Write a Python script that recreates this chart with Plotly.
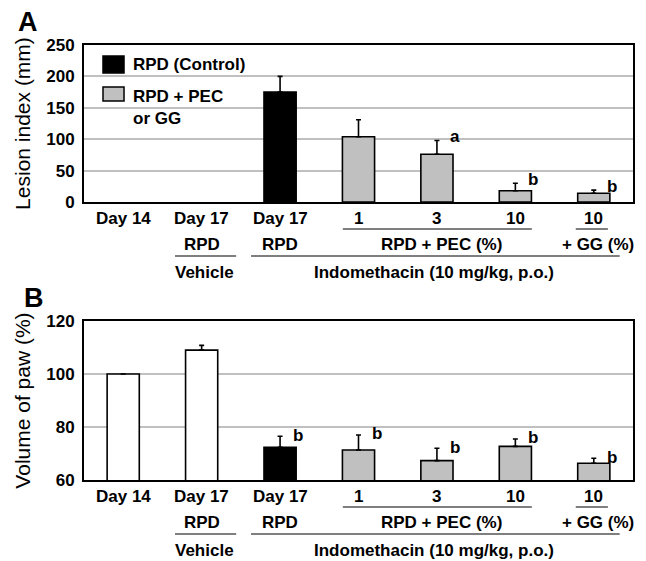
import plotly.graph_objects as go

# ---------------- data ----------------
categories = ["Day 14", "Day 17", "Day 17", "1", "3", "10", "10"]
row2_labels = ["RPD", "RPD", "RPD + PEC (%)", "+ GG (%)"]
row3_labels = ["Vehicle", "Indomethacin (10 mg/kg, p.o.)"]

lesion_mean = [None, None, 175, 104, 76, 18, 14]
lesion_err = [0, 0, 25, 27, 22, 12, 5]
lesion_sig = ["", "", "", "", "a", "b", "b"]

paw_mean = [100, 109, 72.3, 71.3, 67.3, 72.7, 66.3]
paw_err = [0, 1.8, 4.2, 5.7, 4.7, 2.8, 1.9]
paw_sig = ["", "", "b", "b", "b", "b", "b"]

colors_A = ["white", "white", "black", "#c0c0c0", "#c0c0c0", "#c0c0c0", "#c0c0c0"]
colors_B = ["white", "white", "black", "#c0c0c0", "#c0c0c0", "#c0c0c0", "#c0c0c0"]

FONT = "Liberation Sans, Arial, sans-serif"
xs = list(range(len(categories)))

fig = go.Figure()

def add_bars(means, errs, colors, xa, ya):
    fig.add_trace(go.Bar(
        x=xs, y=means, width=0.41, xaxis=xa, yaxis=ya,
        marker=dict(color=colors, line=dict(color="black", width=1.6)),
        error_y=dict(type="data", array=errs, arrayminus=[0] * len(errs),
                     symmetric=False, color="black", thickness=1.6, width=2.5),
        showlegend=False, hoverinfo="skip",
    ))

add_bars(lesion_mean, lesion_err, colors_A, "x", "y")
add_bars(paw_mean, paw_err, colors_B, "x2", "y2")

axis_common = dict(showline=True, mirror=True, linecolor="black", linewidth=2,
                   zeroline=False)
tickfont = dict(family=FONT, size=17, color="black", weight="bold")

fig.update_layout(
    width=646, height=561,
    margin=dict(l=84, r=13, t=45, b=81),
    paper_bgcolor="white", plot_bgcolor="white",
    bargap=0.5,
    xaxis=dict(domain=[0, 1], anchor="y", range=[-0.5, 6.5], showticklabels=False,
               showgrid=False, ticks="", **axis_common),
    xaxis2=dict(domain=[0, 1], anchor="y2", range=[-0.5, 6.5], showticklabels=False,
                showgrid=False, ticks="", **axis_common),
    yaxis=dict(domain=[0.639, 1], anchor="x", range=[0, 250], dtick=50,
               showgrid=True, gridcolor="#c0c0c0", gridwidth=1.6,
               tickfont=tickfont, ticks="", ticklabelstandoff=4,
               title=dict(text="Lesion index (mm)", standoff=10,
                          font=dict(family=FONT, size=21, color="black")),
               **axis_common),
    yaxis2=dict(domain=[0, 0.3655], anchor="x2", range=[60, 120], dtick=20,
                showgrid=True, gridcolor="#c0c0c0", gridwidth=1.6,
                tickfont=tickfont, ticks="", ticklabelstandoff=4,
                title=dict(text="Volume of paw (%)", standoff=10,
                           font=dict(family=FONT, size=21, color="black")),
                **axis_common),
)

lab_font = dict(family=FONT, size=17, color="black", weight="bold")
annotations = []
shapes = []

def panel_axis_labels(xref, yref):
    # row 1: tick labels
    for i, c in enumerate(categories):
        annotations.append(dict(x=i, y=0, xref=xref, yref=yref, text=c,
                                showarrow=False, yanchor="middle", yshift=-16,
                                font=lab_font))
    # row 2
    row2_pos = [(1, 0), (2, 0), (4, 5), (6, 4)]
    for (px, sh), t in zip(row2_pos, row2_labels):
        annotations.append(dict(x=px, y=0, xref=xref, yref=yref, text=t,
                                showarrow=False, yanchor="middle", yshift=-42,
                                xshift=sh, font=lab_font))
    # row 3
    row3_pos = [(1, 3), (4, -3)]
    for (px, sh), t in zip(row3_pos, row3_labels):
        annotations.append(dict(x=px, y=0, xref=xref, yref=yref, text=t,
                                showarrow=False, yanchor="middle", yshift=-70,
                                xshift=sh, font=lab_font))
    # group lines
    for x0, x1, off in [(2.80, 5.21, -27), (5.77, 6.18, -27),
                        (0.66, 1.44, -54), (1.63, 6.33, -54)]:
        shapes.append(dict(type="line", xref=xref, yref=yref, x0=x0, x1=x1,
                           ysizemode="pixel", yanchor=0, y0=off, y1=off,
                           line=dict(color="#555555", width=1.5)))

panel_axis_labels("x", "y domain")
panel_axis_labels("x2", "y2 domain")

# significance letters
sig_font = dict(family=FONT, size=17, color="black", weight="bold")
for i, (m, e, s) in enumerate(zip(lesion_mean, lesion_err, lesion_sig)):
    if s:
        annotations.append(dict(x=i, y=m + e, xref="x", yref="y", text=s,
                                showarrow=False, xshift=18, yshift=4,
                                yanchor="middle", font=sig_font))
for i, (m, e, s) in enumerate(zip(paw_mean, paw_err, paw_sig)):
    if s:
        annotations.append(dict(x=i, y=m + e, xref="x2", yref="y2", text=s,
                                showarrow=False, xshift=18, yshift=1,
                                yanchor="middle", font=sig_font))

# legend (panel A)
shapes.append(dict(type="rect", xref="x domain", yref="y domain",
                   x0=0.0346, x1=0.0729, y0=0.822, y1=0.930,
                   fillcolor="black", line=dict(color="black", width=1.5)))
shapes.append(dict(type="rect", xref="x domain", yref="y domain",
                   x0=0.0346, x1=0.0729, y0=0.643, y1=0.7325,
                   fillcolor="#c0c0c0", line=dict(color="black", width=1.5)))
leg_font = dict(family=FONT, size=17, color="black", weight="bold")
for t, yy in [("RPD (Control)", 0.873), ("RPD + PEC", 0.669), ("or GG", 0.535)]:
    annotations.append(dict(x=0.0856, y=yy, xref="x domain", yref="y domain",
                            text=t, showarrow=False, xanchor="left",
                            yanchor="middle", font=leg_font))

# panel letters
for t, xx, yy in [("A", -0.102, 1.053), ("B", -0.091, 0.418)]:
    annotations.append(dict(x=xx, y=yy, xref="paper", yref="paper", text=t,
                            showarrow=False, xanchor="center", yanchor="middle",
                            font=dict(family=FONT, size=27, color="black",
                                      weight="bold")))

fig.update_layout(annotations=annotations, shapes=shapes)
fig.write_html("out.html")
